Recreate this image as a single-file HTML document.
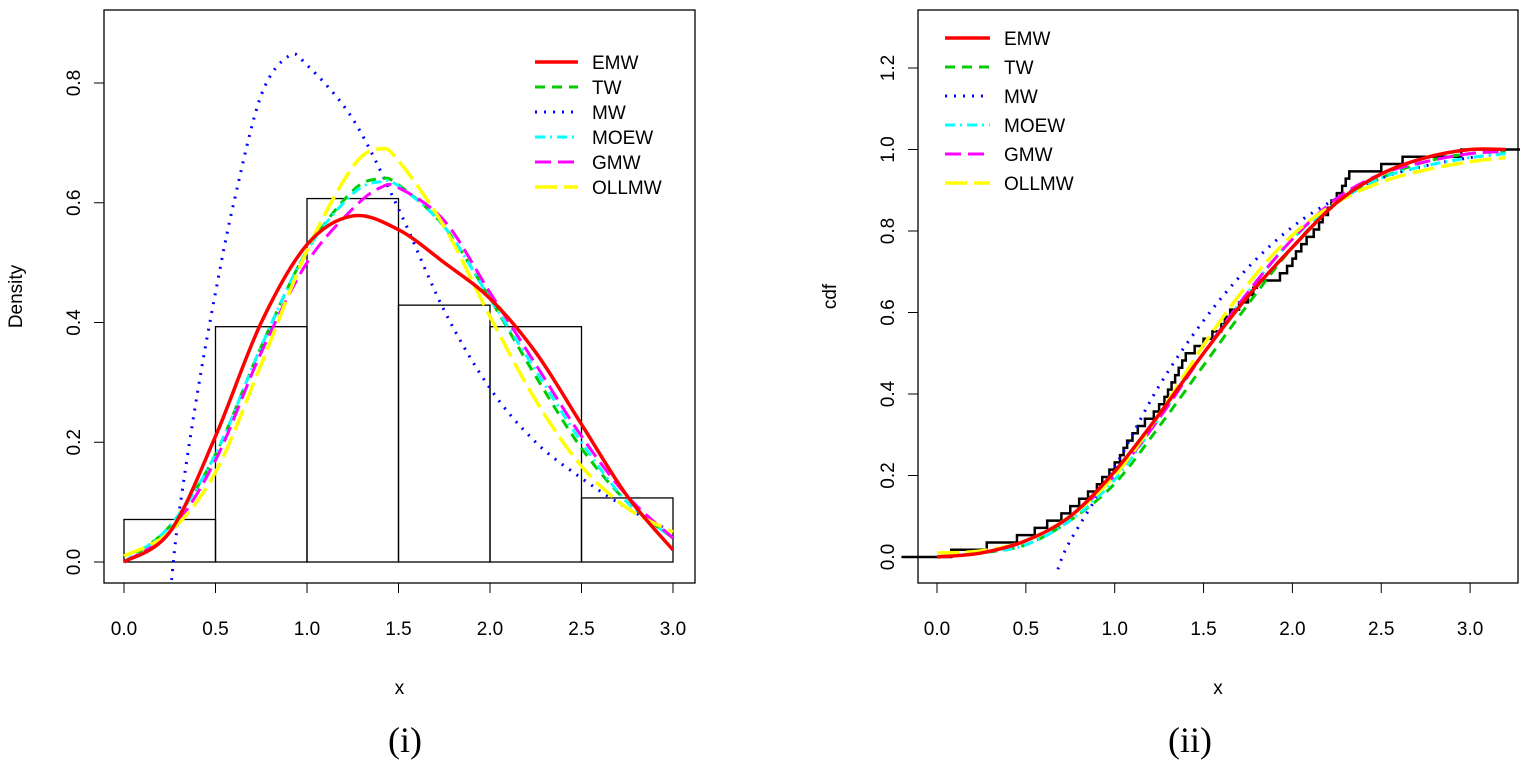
<!DOCTYPE html>
<html><head><meta charset="utf-8"><style>
body{margin:0;background:#fff;}
svg text{font-family:"Liberation Sans",sans-serif;}
</style></head><body>
<svg id="s" width="1520" height="760" xmlns="http://www.w3.org/2000/svg"></svg>
<script>
const histBreaks=[0,0.5,1,1.5,2,2.5,3];
const histDensity=[0.071,0.393,0.607,0.429,0.393,0.107];
const densX=[0,0.25,0.5,0.75,1.0,1.25,1.4,1.5,1.75,2.0,2.25,2.5,2.75,3.0];
const densEMWX=[0,0.25,0.5,0.75,1.0,1.25,1.5,1.75,2.0,2.25,2.5,2.75,3.0];
const densEMW=[0,0.05,0.21,0.40,0.53,0.578,0.555,0.50,0.44,0.35,0.23,0.11,0.02];
const densTW=[0,0.06,0.18,0.36,0.52,0.62,0.64,0.63,0.56,0.44,0.31,0.19,0.10,0.04];
const densMOEW=[0,0.06,0.18,0.36,0.52,0.615,0.635,0.628,0.56,0.44,0.32,0.20,0.10,0.04];
const densGMW=[0,0.05,0.17,0.35,0.50,0.59,0.625,0.625,0.57,0.45,0.33,0.21,0.11,0.04];
const densOLLMW=[0.01,0.05,0.15,0.33,0.52,0.66,0.69,0.67,0.56,0.41,0.27,0.16,0.09,0.05];
const mwX=[0.26,0.3,0.4,0.5,0.6,0.75,0.9,1.0,1.25,1.5,1.75,2.0,2.25,2.5,2.75,3.0];
const densMW=[-0.03,0.08,0.28,0.45,0.60,0.78,0.845,0.83,0.74,0.59,0.42,0.29,0.20,0.14,0.09,0.05];
const cdfX=[0,0.25,0.5,0.75,1.0,1.25,1.5,1.75,2.0,2.25,2.5,2.75,3.0,3.2];
const cdfEMW=[0,0.01,0.04,0.10,0.21,0.35,0.50,0.64,0.76,0.87,0.94,0.98,1.0,1.0];
const cdfTW=[0,0.01,0.03,0.09,0.18,0.32,0.47,0.62,0.76,0.87,0.93,0.97,0.99,0.995];
const cdfMOEW=[0,0.01,0.03,0.09,0.19,0.34,0.50,0.65,0.78,0.87,0.93,0.96,0.98,0.99];
const cdfGMW=[0,0.01,0.04,0.10,0.20,0.34,0.50,0.65,0.78,0.88,0.94,0.97,0.99,0.995];
const cdfOLLMW=[0.01,0.015,0.04,0.10,0.20,0.35,0.52,0.67,0.79,0.87,0.92,0.95,0.97,0.98];
const mwCdfX=[0.68,0.75,1.0,1.25,1.5,1.75,2.0,2.25,2.5,2.75,3.0,3.2];
const cdfMW=[-0.03,0.04,0.22,0.42,0.58,0.71,0.81,0.88,0.93,0.96,0.98,0.99];
const sample=[0.08,0.28,0.45,0.55,0.62,0.70,0.75,0.80,0.85,0.90,0.93,0.97,1.0,1.03,1.05,1.07,1.10,1.13,1.17,1.22,1.25,1.28,1.30,1.32,1.34,1.36,1.38,1.40,1.45,1.50,1.55,1.60,1.62,1.65,1.70,1.75,1.78,1.80,1.93,1.97,2.0,2.02,2.05,2.08,2.12,2.15,2.17,2.20,2.22,2.25,2.28,2.30,2.32,2.50,2.62,2.95];
const xTicks=[0,0.5,1,1.5,2,2.5,3];
const yTicksL=[0,0.2,0.4,0.6,0.8];
const yTicksR=[0,0.2,0.4,0.6,0.8,1.0,1.2];
const legendNames=["EMW","TW","MW","MOEW","GMW","OLLMW"];

const S=document.getElementById('s');const NS="http://www.w3.org/2000/svg";
function mk(t,a,name,p){const e=document.createElementNS(NS,t);for(const k in a)e.setAttribute(k,a[k]);


(p||S).appendChild(e);return e;}
const styles=[{c:"#ff0000",w:3.5,d:""},{c:"#00cc00",w:3,d:"10,7"},{c:"#0000ff",w:3,d:"2,7"},{c:"#00ffff",w:3,d:"10,5,2,5"},{c:"#ff00ff",w:3,d:"16,7"},{c:"#ffff00",w:3.5,d:"22,7"}];
function fmt(v){return v.toFixed(1);}
const Lx=v=>124+v*183, Ly=v=>562-v*598.75;
const Rx=v=>937+v*177.7, Ry=v=>557-v*407.5;
function panel(X,Y,box,yt,ylab,tag){
 const g=mk('g',{},tag+'-panel');
 mk('rect',{x:box[0],y:box[1],width:box[2]-box[0],height:box[3]-box[1],fill:'none',stroke:'#000','stroke-width':1.3},tag+'-plot-frame',g);
 xTicks.forEach(v=>{mk('line',{x1:X(v),x2:X(v),y1:box[3],y2:box[3]+10,stroke:'#000'},'x-tick',g);
  const t=mk('text',{x:X(v),y:box[3]+52,'text-anchor':'middle','font-size':19},'x-tick-label',g);t.textContent=fmt(v);});
 mk('line',{x1:X(0),x2:X(3),y1:box[3],y2:box[3],stroke:'#000'},'x-axis',g);
 yt.forEach(v=>{mk('line',{x1:box[0],x2:box[0]-10,y1:Y(v),y2:Y(v),stroke:'#000'},'y-tick',g);
  const t=mk('text',{x:0,y:0,'text-anchor':'middle','font-size':19,transform:`translate(${box[0]-24},${Y(v)}) rotate(-90)`},'y-tick-label',g);t.textContent=fmt(v);});
 mk('line',{x1:box[0],x2:box[0],y1:Y(yt[0]),y2:Y(yt[yt.length-1]),stroke:'#000'},'y-axis',g);
 const xl=mk('text',{x:(box[0]+box[2])/2,y:694,'text-anchor':'middle','font-size':19},'x-axis-title',g);xl.textContent='x';
 const yl=mk('text',{x:0,y:0,'text-anchor':'middle','font-size':19,transform:`translate(${box[0]-82},${(box[1]+box[3])/2}) rotate(-90)`},'y-axis-title',g);yl.textContent=ylab;
 return g;}
const gl=panel(Lx,Ly,[104,10,695,583],yTicksL,'Density','density');
const gr=panel(Rx,Ry,[918,10,1518,583],yTicksR,'cdf','cdf');
histDensity.forEach((d,i)=>mk('rect',{x:Lx(histBreaks[i]),y:Ly(d),width:Lx(histBreaks[i+1])-Lx(histBreaks[i]),height:Ly(0)-Ly(d),fill:'none',stroke:'#000','stroke-width':1.3},'hist-bar',gl));
function smooth(P){let d='M'+P[0][0]+','+P[0][1];for(let i=0;i<P.length-1;i++){const p0=P[i-1]||P[i],p1=P[i],p2=P[i+1],p3=P[i+2]||P[i+1];
 const c1=[p1[0]+(p2[0]-p0[0])/6,p1[1]+(p2[1]-p0[1])/6],c2=[p2[0]-(p3[0]-p1[0])/6,p2[1]-(p3[1]-p1[1])/6];
 d+=` C${c1[0]},${c1[1]} ${c2[0]},${c2[1]} ${p2[0]},${p2[1]}`;}return d;}
function line(X,Y,xs,ys,st,name,g){mk('path',{d:smooth(xs.map((x,i)=>[X(x),Y(ys[i])])),fill:'none',stroke:st.c,'stroke-width':st.w,'stroke-dasharray':st.d,'stroke-linejoin':'round'},name,g);}
(function(){let pts=[[Rx(-0.2),Ry(0)]];const n=sample.length;sample.forEach((v,i)=>{pts.push([Rx(v),Ry(i/n)]);pts.push([Rx(v),Ry((i+1)/n)]);});pts.push([Rx(3.3),Ry(1)]);
mk('polyline',{points:pts.map(p=>p.join(',')).join(' '),fill:'none',stroke:'#000','stroke-width':2.5},'empirical-cdf',gr);})();
const dens=[densEMW,densTW,null,densMOEW,densGMW,densOLLMW];
const cdfs=[cdfEMW,cdfTW,null,cdfMOEW,cdfGMW,cdfOLLMW];
[2,1,3,4,5,0].forEach(i=>{
 if(i===2){line(Lx,Ly,mwX,densMW,styles[2],'density-MW',gl);line(Rx,Ry,mwCdfX,cdfMW,styles[2],'cdf-MW',gr);}
 else{line(Lx,Ly,i===0?densEMWX:densX,dens[i],styles[i],'density-'+legendNames[i],gl);line(Rx,Ry,cdfX,cdfs[i],styles[i],'cdf-'+legendNames[i],gr);}
});
function legend(x0,y0,dy,len,g){legendNames.forEach((n,i)=>{const st=styles[i];
 mk('line',{x1:x0,x2:x0+len,y1:y0+i*dy,y2:y0+i*dy,stroke:st.c,'stroke-width':st.w,'stroke-dasharray':st.d},'legend-swatch',g);
 const t=mk('text',{x:x0+len+14,y:y0+i*dy+7,'font-size':19},'legend-entry',g);t.textContent=n;});}
legend(535,62,25,43,gl);legend(945,38,29,45,gr);
const c1=mk('text',{x:405,y:752,'text-anchor':'middle','font-size':36},'caption-i');c1.textContent='(i)';
c1.setAttribute('style','font-family:"Liberation Serif",serif');
const c2=mk('text',{x:1190,y:752,'text-anchor':'middle','font-size':36},'caption-ii');c2.textContent='(ii)';
c2.setAttribute('style','font-family:"Liberation Serif",serif');
</script>
</body></html>
